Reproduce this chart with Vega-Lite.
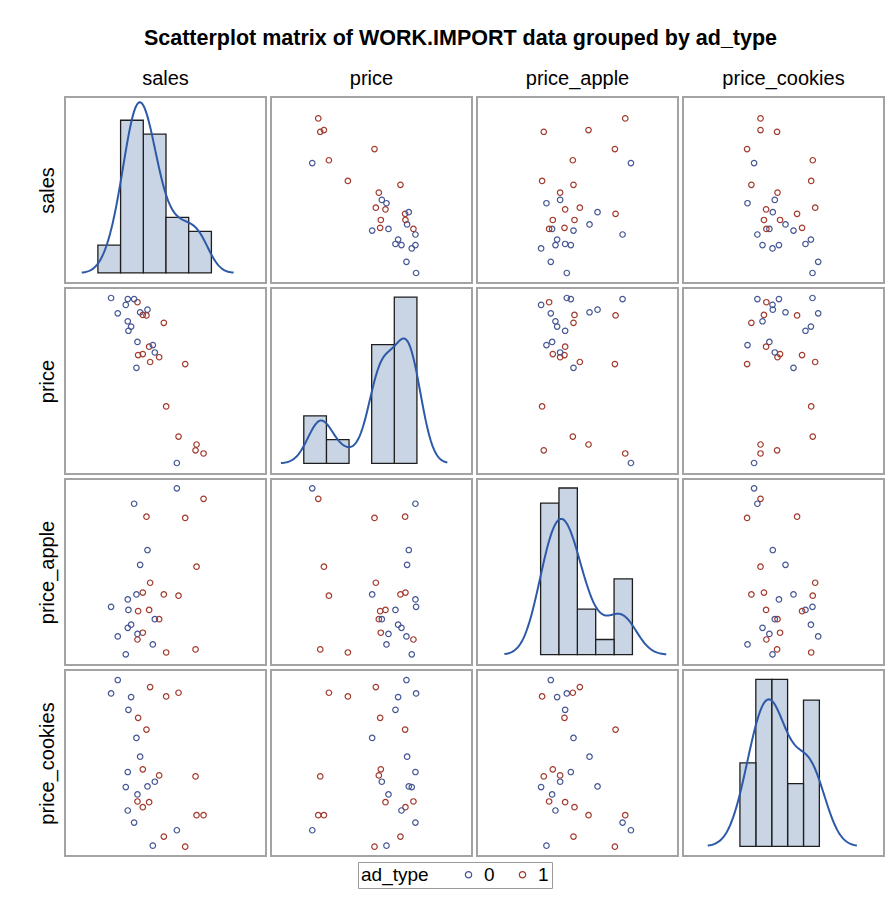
{
  "$schema": "https://vega.github.io/schema/vega-lite/v6.json",
  "padding": {"left": 36, "top": 27, "right": 2, "bottom": 2},
  "title": {"text": "Scatterplot matrix of WORK.IMPORT data grouped by ad_type", "fontSize": 21.5, "fontWeight": "bold", "anchor": "middle", "offset": 19, "color": "#000"},
  "data": {"values": [
    {"sales":173,"price":10.40,"price_apple":1.22,"price_cookies":6.08,"ad_type":"0"},
    {"sales":270,"price":9.48,"price_apple":1.655,"price_cookies":5.87,"ad_type":"1"},
    {"sales":355,"price":8.07,"price_apple":1.55,"price_cookies":5.70,"ad_type":"1"},
    {"sales":153,"price":10.69,"price_apple":1.46,"price_cookies":5.68,"ad_type":"0"},
    {"sales":318,"price":8.64,"price_apple":1.09,"price_cookies":5.59,"ad_type":"1"},
    {"sales":213,"price":10.15,"price_apple":1.315,"price_cookies":5.57,"ad_type":"0"},
    {"sales":205,"price":10.07,"price_apple":1.435,"price_cookies":5.19,"ad_type":"0"},
    {"sales":234,"price":9.61,"price_apple":1.425,"price_cookies":4.95,"ad_type":"1"},
    {"sales":259,"price":10.36,"price_apple":2.19,"price_cookies":4.60,"ad_type":"1"},
    {"sales":229,"price":9.37,"price_apple":1.56,"price_cookies":4.35,"ad_type":"0"},
    {"sales":240,"price":10.42,"price_apple":1.80,"price_cookies":3.79,"ad_type":"0"},
    {"sales":248,"price":9.63,"price_apple":1.25,"price_cookies":3.41,"ad_type":"1"},
    {"sales":297,"price":9.57,"price_apple":1.36,"price_cookies":3.23,"ad_type":"1"},
    {"sales":406,"price":7.81,"price_apple":1.115,"price_cookies":3.20,"ad_type":"1"},
    {"sales":203,"price":10.67,"price_apple":1.52,"price_cookies":3.33,"ad_type":"0"},
    {"sales":284,"price":9.66,"price_apple":1.36,"price_cookies":3.04,"ad_type":"0"},
    {"sales":262,"price":10.47,"price_apple":1.92,"price_cookies":2.90,"ad_type":"0"},
    {"sales":197,"price":10.56,"price_apple":1.075,"price_cookies":2.88,"ad_type":"0"},
    {"sales":232,"price":9.86,"price_apple":1.24,"price_cookies":2.66,"ad_type":"0"},
    {"sales":232,"price":10.61,"price_apple":1.195,"price_cookies":2.45,"ad_type":"1"},
    {"sales":267,"price":9.77,"price_apple":1.435,"price_cookies":2.43,"ad_type":"1"},
    {"sales":248,"price":10.37,"price_apple":1.575,"price_cookies":2.28,"ad_type":"1"},
    {"sales":203,"price":10.25,"price_apple":1.29,"price_cookies":2.18,"ad_type":"0"},
    {"sales":409,"price":7.92,"price_apple":1.785,"price_cookies":2.04,"ad_type":"1"},
    {"sales":430,"price":7.75,"price_apple":2.335,"price_cookies":2.04,"ad_type":"1"},
    {"sales":222,"price":10.67,"price_apple":2.295,"price_cookies":1.82,"ad_type":"0"},
    {"sales":350,"price":7.57,"price_apple":2.42,"price_cookies":1.59,"ad_type":"0"},
    {"sales":311,"price":10.22,"price_apple":1.56,"price_cookies":1.40,"ad_type":"1"},
    {"sales":278,"price":9.80,"price_apple":1.155,"price_cookies":1.13,"ad_type":"0"},
    {"sales":375,"price":9.44,"price_apple":2.18,"price_cookies":1.10,"ad_type":"1"}
  ]},
  "columns": 4,
  "spacing": 3,
  "concat": [
    {
      "width": 201, "height": 186,
      "title": {"text": "sales", "frame": "group", "fontSize": 20, "fontWeight": "normal", "offset": 8, "color": "#000"},
      "layer": [
        {"mark": {"type": "bar", "fill": "#C9D4E4", "stroke": "#1e1e1e", "strokeWidth": 1.3, "binSpacing": 0},
         "encoding": {
           "x": {"field": "sales", "bin": {"extent": [112, 452], "step": 68, "nice": false}, "type": "quantitative", "scale": {"domain": [15, 617]}, "axis": null},
           "y": {"aggregate": "count", "type": "quantitative", "scale": {"domain": [-0.723, 12.675], "nice": false, "zero": false}, "axis": {"title": "sales"}}
         }},
        {"transform": [{"density": "sales", "bandwidth": 33, "extent": [65, 520], "counts": true, "steps": 200}],
         "mark": {"type": "line", "color": "#2D5AA8", "strokeWidth": 2},
         "encoding": {
           "x": {"field": "value", "type": "quantitative", "scale": {"domain": [15, 617]}, "axis": null},
           "y": {"field": "density", "type": "quantitative", "scale": {"domain": [-0.01063, 0.1864], "nice": false, "zero": false}, "axis": null}
         }}
      ],
      "resolve": {"scale": {"y": "independent"}}
    },
    {
      "width": 201, "height": 186,
      "title": {"text": "price", "frame": "group", "fontSize": 20, "fontWeight": "normal", "offset": 8, "color": "#000"},
      "mark": {"type": "point", "shape": "circle", "filled": false, "size": 30, "strokeWidth": 1.2, "opacity": 1},
      "encoding": {
        "x": {"field": "price", "type": "quantitative", "scale": {"domain": [6.33, 12.37], "nice": false, "zero": false}, "axis": null},
        "y": {"field": "sales", "type": "quantitative", "scale": {"domain": [135.1, 468.3], "nice": false, "zero": false}, "axis": null},
        "color": {"field": "ad_type", "type": "nominal", "scale": {"domain": ["0", "1"], "range": ["#445694", "#A23A2E"]}}
      }
    },
    {
      "width": 201, "height": 186,
      "title": {"text": "price_apple", "frame": "group", "fontSize": 20, "fontWeight": "normal", "offset": 8, "color": "#000"},
      "mark": {"type": "point", "shape": "circle", "filled": false, "size": 30, "strokeWidth": 1.2, "opacity": 1},
      "encoding": {
        "x": {"field": "price_apple", "type": "quantitative", "scale": {"domain": [0.115, 3.125], "nice": false, "zero": false}, "axis": null},
        "y": {"field": "sales", "type": "quantitative", "scale": {"domain": [135.1, 468.3], "nice": false, "zero": false}, "axis": null},
        "color": {"field": "ad_type", "type": "nominal", "scale": {"domain": ["0", "1"], "range": ["#445694", "#A23A2E"]}}
      }
    },
    {
      "width": 201, "height": 186,
      "title": {"text": "price_cookies", "frame": "group", "fontSize": 20, "fontWeight": "normal", "offset": 8, "color": "#000"},
      "mark": {"type": "point", "shape": "circle", "filled": false, "size": 30, "strokeWidth": 1.2, "opacity": 1},
      "encoding": {
        "x": {"field": "price_cookies", "type": "quantitative", "scale": {"domain": [-3.39, 10.69], "nice": false, "zero": false}, "axis": null},
        "y": {"field": "sales", "type": "quantitative", "scale": {"domain": [135.1, 468.3], "nice": false, "zero": false}, "axis": null},
        "color": {"field": "ad_type", "type": "nominal", "scale": {"domain": ["0", "1"], "range": ["#445694", "#A23A2E"]}}
      }
    },
    {
      "width": 201, "height": 186,
      "mark": {"type": "point", "shape": "circle", "filled": false, "size": 30, "strokeWidth": 1.2, "opacity": 1},
      "encoding": {
        "x": {"field": "sales", "type": "quantitative", "scale": {"domain": [15, 617], "nice": false, "zero": false}, "axis": null},
        "y": {"field": "price", "type": "quantitative", "scale": {"domain": [7.362, 10.879], "nice": false, "zero": false}, "axis": {"title": "price"}},
        "color": {"field": "ad_type", "type": "nominal", "scale": {"domain": ["0", "1"], "range": ["#445694", "#A23A2E"]}}
      }
    },
    {
      "width": 201, "height": 186,
      "layer": [
        {"mark": {"type": "bar", "fill": "#C9D4E4", "stroke": "#1e1e1e", "strokeWidth": 1.3, "binSpacing": 0},
         "encoding": {
           "x": {"field": "price", "bin": {"extent": [7.30, 10.70], "step": 0.68, "nice": false}, "type": "quantitative", "scale": {"domain": [6.33, 12.37]}, "axis": null},
           "y": {"aggregate": "count", "type": "quantitative", "scale": {"domain": [-0.898, 14.76], "nice": false, "zero": false}, "axis": null}
         }},
        {"transform": [{"density": "price", "bandwidth": 0.34, "extent": [6.63, 11.63], "counts": true, "steps": 200}],
         "mark": {"type": "line", "color": "#2D5AA8", "strokeWidth": 2},
         "encoding": {
           "x": {"field": "value", "type": "quantitative", "scale": {"domain": [6.33, 12.37]}, "axis": null},
           "y": {"field": "density", "type": "quantitative", "scale": {"domain": [-1.321, 21.706], "nice": false, "zero": false}, "axis": null}
         }}
      ],
      "resolve": {"scale": {"y": "independent"}}
    },
    {
      "width": 201, "height": 186,
      "mark": {"type": "point", "shape": "circle", "filled": false, "size": 30, "strokeWidth": 1.2, "opacity": 1},
      "encoding": {
        "x": {"field": "price_apple", "type": "quantitative", "scale": {"domain": [0.115, 3.125], "nice": false, "zero": false}, "axis": null},
        "y": {"field": "price", "type": "quantitative", "scale": {"domain": [7.362, 10.879], "nice": false, "zero": false}, "axis": null},
        "color": {"field": "ad_type", "type": "nominal", "scale": {"domain": ["0", "1"], "range": ["#445694", "#A23A2E"]}}
      }
    },
    {
      "width": 201, "height": 186,
      "mark": {"type": "point", "shape": "circle", "filled": false, "size": 30, "strokeWidth": 1.2, "opacity": 1},
      "encoding": {
        "x": {"field": "price_cookies", "type": "quantitative", "scale": {"domain": [-3.39, 10.69], "nice": false, "zero": false}, "axis": null},
        "y": {"field": "price", "type": "quantitative", "scale": {"domain": [7.362, 10.879], "nice": false, "zero": false}, "axis": null},
        "color": {"field": "ad_type", "type": "nominal", "scale": {"domain": ["0", "1"], "range": ["#445694", "#A23A2E"]}}
      }
    },
    {
      "width": 201, "height": 186,
      "mark": {"type": "point", "shape": "circle", "filled": false, "size": 30, "strokeWidth": 1.2, "opacity": 1},
      "encoding": {
        "x": {"field": "sales", "type": "quantitative", "scale": {"domain": [15, 617], "nice": false, "zero": false}, "axis": null},
        "y": {"field": "price_apple", "type": "quantitative", "scale": {"domain": [0.9885, 2.4955], "nice": false, "zero": false}, "axis": {"title": "price_apple"}},
        "color": {"field": "ad_type", "type": "nominal", "scale": {"domain": ["0", "1"], "range": ["#445694", "#A23A2E"]}}
      }
    },
    {
      "width": 201, "height": 186,
      "mark": {"type": "point", "shape": "circle", "filled": false, "size": 30, "strokeWidth": 1.2, "opacity": 1},
      "encoding": {
        "x": {"field": "price", "type": "quantitative", "scale": {"domain": [6.33, 12.37], "nice": false, "zero": false}, "axis": null},
        "y": {"field": "price_apple", "type": "quantitative", "scale": {"domain": [0.9885, 2.4955], "nice": false, "zero": false}, "axis": null},
        "color": {"field": "ad_type", "type": "nominal", "scale": {"domain": ["0", "1"], "range": ["#445694", "#A23A2E"]}}
      }
    },
    {
      "width": 201, "height": 186,
      "layer": [
        {"mark": {"type": "bar", "fill": "#C9D4E4", "stroke": "#1e1e1e", "strokeWidth": 1.3, "binSpacing": 0},
         "encoding": {
           "x": {"field": "price_apple", "bin": {"extent": [1.06, 2.435], "step": 0.275, "nice": false}, "type": "quantitative", "scale": {"domain": [0.115, 3.125]}, "axis": null},
           "y": {"aggregate": "count", "type": "quantitative", "scale": {"domain": [-0.682, 11.595], "nice": false, "zero": false}, "axis": null}
         }},
        {"transform": [{"density": "price_apple", "bandwidth": 0.2, "extent": [0.525, 2.95], "counts": true, "steps": 200}],
         "mark": {"type": "line", "color": "#2D5AA8", "strokeWidth": 2},
         "encoding": {
           "x": {"field": "value", "type": "quantitative", "scale": {"domain": [0.115, 3.125]}, "axis": null},
           "y": {"field": "density", "type": "quantitative", "scale": {"domain": [-2.48, 42.16], "nice": false, "zero": false}, "axis": null}
         }}
      ],
      "resolve": {"scale": {"y": "independent"}}
    },
    {
      "width": 201, "height": 186,
      "mark": {"type": "point", "shape": "circle", "filled": false, "size": 30, "strokeWidth": 1.2, "opacity": 1},
      "encoding": {
        "x": {"field": "price_cookies", "type": "quantitative", "scale": {"domain": [-3.39, 10.69], "nice": false, "zero": false}, "axis": null},
        "y": {"field": "price_apple", "type": "quantitative", "scale": {"domain": [0.9885, 2.4955], "nice": false, "zero": false}, "axis": null},
        "color": {"field": "ad_type", "type": "nominal", "scale": {"domain": ["0", "1"], "range": ["#445694", "#A23A2E"]}}
      }
    },
    {
      "width": 201, "height": 186,
      "mark": {"type": "point", "shape": "circle", "filled": false, "size": 30, "strokeWidth": 1.2, "opacity": 1},
      "encoding": {
        "x": {"field": "sales", "type": "quantitative", "scale": {"domain": [15, 617], "nice": false, "zero": false}, "axis": null},
        "y": {"field": "price_cookies", "type": "quantitative", "scale": {"domain": [0.82, 6.38], "nice": false, "zero": false}, "axis": {"title": "price_cookies"}},
        "color": {"field": "ad_type", "type": "nominal", "scale": {"domain": ["0", "1"], "range": ["#445694", "#A23A2E"]}}
      }
    },
    {
      "width": 201, "height": 186,
      "mark": {"type": "point", "shape": "circle", "filled": false, "size": 30, "strokeWidth": 1.2, "opacity": 1},
      "encoding": {
        "x": {"field": "price", "type": "quantitative", "scale": {"domain": [6.33, 12.37], "nice": false, "zero": false}, "axis": null},
        "y": {"field": "price_cookies", "type": "quantitative", "scale": {"domain": [0.82, 6.38], "nice": false, "zero": false}, "axis": null},
        "color": {"field": "ad_type", "type": "nominal", "scale": {"domain": ["0", "1"], "range": ["#445694", "#A23A2E"]}}
      }
    },
    {
      "width": 201, "height": 186,
      "mark": {"type": "point", "shape": "circle", "filled": false, "size": 30, "strokeWidth": 1.2, "opacity": 1},
      "encoding": {
        "x": {"field": "price_apple", "type": "quantitative", "scale": {"domain": [0.115, 3.125], "nice": false, "zero": false}, "axis": null},
        "y": {"field": "price_cookies", "type": "quantitative", "scale": {"domain": [0.82, 6.38], "nice": false, "zero": false}, "axis": null},
        "color": {"field": "ad_type", "type": "nominal", "scale": {"domain": ["0", "1"], "range": ["#445694", "#A23A2E"]}}
      }
    },
    {
      "width": 201, "height": 186,
      "layer": [
        {"mark": {"type": "bar", "fill": "#C9D4E4", "stroke": "#1e1e1e", "strokeWidth": 1.3, "binSpacing": 0},
         "encoding": {
           "x": {"field": "price_cookies", "bin": {"extent": [0.563, 6.128], "step": 1.113, "nice": false}, "type": "quantitative", "scale": {"domain": [-3.39, 10.69]}, "axis": null},
           "y": {"aggregate": "count", "type": "quantitative", "scale": {"domain": [-0.465, 8.446], "nice": false, "zero": false}, "axis": null}
         }},
        {"transform": [{"density": "price_cookies", "bandwidth": 1.02, "extent": [-1.66, 8.79], "counts": true, "steps": 200}],
         "mark": {"type": "line", "color": "#2D5AA8", "strokeWidth": 2},
         "encoding": {
           "x": {"field": "value", "type": "quantitative", "scale": {"domain": [-3.39, 10.69]}, "axis": null},
           "y": {"field": "density", "type": "quantitative", "scale": {"domain": [-0.418, 7.589], "nice": false, "zero": false}, "axis": null}
         }}
      ],
      "resolve": {"scale": {"y": "independent"}}
    }
  ],
  "config": {
    "font": "Liberation Sans",
    "view": {"stroke": "#a3a3a3", "strokeWidth": 2},
    "axis": {"labels": false, "ticks": false, "domain": false, "grid": false, "titleFontSize": 20, "titleFontWeight": "normal", "titleColor": "#000", "titlePadding": 8},
    "legend": {"orient": "none", "legendX": 293, "legendY": 765, "direction": "horizontal", "titleOrient": "left", "strokeColor": "#9a9a9a", "padding": 3, "titleFontSize": 19, "labelFontSize": 19, "titleFontWeight": "normal", "titleColor": "#000", "labelColor": "#000", "symbolSize": 40, "symbolStrokeWidth": 1.2, "titlePadding": 30, "columnPadding": 18, "labelOffset": 6}
  }
}
